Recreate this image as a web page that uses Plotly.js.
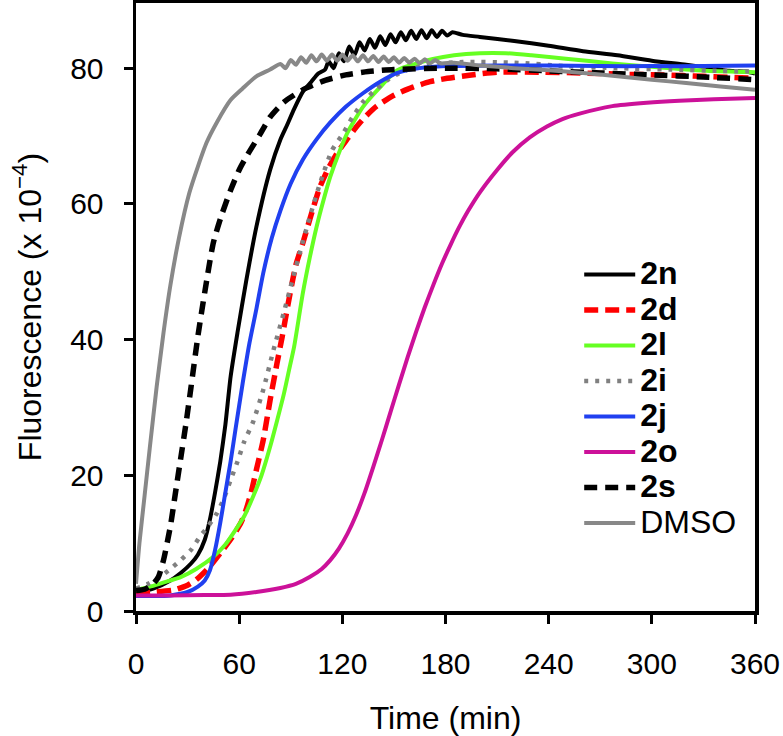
<!DOCTYPE html>
<html>
<head>
<meta charset="utf-8">
<script src="https://cdn.plot.ly/plotly-3.0.1.min.js"></script>
<style>html,body{margin:0;padding:0;background:#fff;}#chart{width:783px;height:736px;}</style>
</head>
<body>
<div id="chart"></div>
<script>
// ---- data (time in min, fluorescence x 10^-4) ----
var names = ["2n", "2d", "2l", "2i", "2j", "2o", "2s", "DMSO"];
var legendLabels = ["<b>2n</b>", "<b>2d</b>", "<b>2l</b>", "<b>2i</b>", "<b>2j</b>", "<b>2o</b>", "<b>2s</b>", "DMSO"];
var xTicks = [0, 60, 120, 180, 240, 300, 360];
var yTicks = [0, 20, 40, 60, 80];

var t2n = [0, 10, 20, 26, 32, 36, 40, 43, 46, 49, 52, 55, 59, 64, 70, 78, 84, 88, 92, 97, 102, 106, 110,
  112, 115, 118, 121, 124, 127, 130, 133, 136, 139, 142, 145, 148, 151, 154, 157, 160, 163, 166, 169, 172, 175, 178, 181, 184,
  190, 200, 220, 240, 260, 280, 300, 320, 335, 345, 355, 360];
var y2n = [2.7, 3.3, 4.5, 5.6, 7.0, 8.3, 10.5, 13.5, 17.5, 22.0, 27.5, 34.5, 41.0, 48.5, 56.6, 65.0, 69.5, 71.7, 74.0, 76.5, 78.0, 79.2, 79.8,
  81.0, 80.0, 82.2, 81.0, 83.2, 81.9, 83.8, 82.6, 84.3, 83.0, 84.7, 83.4, 85.0, 83.8, 85.3, 84.1, 85.5, 84.3, 85.6, 84.4, 85.6, 84.6, 85.5, 84.8, 85.3,
  84.9, 84.6, 84.0, 83.3, 82.5, 81.9, 81.1, 80.5, 80.0, 79.6, 79.5, 79.2];

var t2d = [0, 10, 22, 30, 35, 42, 49, 56, 61, 64, 67, 70, 74, 78, 82, 85, 89.6, 93, 97, 102, 107, 112, 117, 123, 128, 134, 140,
  150, 161, 171, 181, 195, 210, 235, 258, 282, 306, 330, 360];
var y2d = [2.6, 2.8, 3.1, 3.8, 4.6, 6.3, 8.5, 10.9, 13.0, 14.9, 17.5, 20.8, 25.2, 31.1, 36.5, 40.4, 46.8, 51.0, 54.2, 58.5, 62.5, 65.3, 67.5, 69.6, 71.3, 73.0, 74.4,
  76.0, 77.2, 78.0, 78.5, 79.0, 79.4, 79.4, 79.3, 79.1, 79.0, 78.8, 78.5];

var t2l = [0, 10, 20, 26, 35, 45, 52, 58, 63, 68, 73, 78, 82, 86, 89, 92, 97, 101, 105, 109, 113, 118, 123, 132, 142, 152,
  162, 172, 185, 200, 215, 230, 250, 277, 300, 326, 345, 360];
var y2l = [3.1, 3.7, 4.5, 5.0, 6.2, 8.0, 9.8, 12.0, 14.0, 16.8, 20.0, 24.2, 28.0, 32.0, 35.5, 39.0, 46.8, 52.0, 56.6, 60.5, 64.0, 67.5, 70.5, 74.3, 77.2, 79.7,
  80.6, 81.3, 81.9, 82.2, 82.2, 81.9, 81.4, 80.7, 80.2, 79.7, 79.5, 79.4];

var t2i = [0, 7, 14, 20, 26, 32, 37, 42, 47, 51, 55, 59, 63, 68, 74, 80, 86, 91, 96, 101, 107, 114, 120, 126, 132, 138, 146,
  155, 170, 190, 220, 250, 280, 310, 340, 360];
var y2i = [3.3, 4.0, 5.0, 6.2, 7.5, 9.0, 10.9, 12.5, 14.4, 16.5, 19.3, 22.0, 25.0, 27.8, 32.6, 38.5, 44.0, 48.8, 53.5, 58.0, 63.0, 67.9, 70.2, 72.8, 75.0, 76.5, 78.2,
  79.5, 80.5, 80.9, 80.8, 80.3, 80.0, 79.8, 79.6, 79.5];

var t2j = [0, 10, 20, 30, 36, 40, 43, 46, 49, 52, 55, 58, 62, 66, 70, 74, 79, 84, 90, 97, 105, 113, 122, 132, 142, 152,
  165, 180, 210, 240, 270, 300, 330, 360];
var y2j = [2.2, 2.2, 2.3, 2.8, 3.6, 4.5, 6.0, 9.0, 13.0, 17.5, 22.0, 27.0, 33.5, 39.5, 44.5, 49.8, 55.0, 59.0, 63.0, 66.5, 69.5, 72.0, 74.3, 76.3, 78.0, 79.3,
  80.0, 80.3, 80.4, 80.4, 80.3, 80.3, 80.3, 80.4];

var t2o = [0, 20, 40, 55, 70, 84, 93, 101, 108, 113, 118, 123, 128, 133, 138, 143, 148, 153, 158, 163, 168, 173, 178, 183, 188, 193,
  200, 210, 219, 229, 239, 248, 258, 277, 297, 316, 336, 360];
var y2o = [2.3, 2.3, 2.35, 2.4, 2.8, 3.4, 4.0, 5.0, 6.2, 7.5, 9.2, 11.4, 14.15, 17.45, 21.25, 25.2, 29.3, 33.4, 37.4, 41.2, 44.8, 48.1, 51.2, 54.0, 56.6, 58.9,
  61.7, 65.0, 67.6, 69.8, 71.4, 72.5, 73.3, 74.4, 74.9, 75.2, 75.4, 75.6];

var t2s = [0, 5, 10, 13, 16, 20, 23, 26, 29, 32, 36, 40, 45, 50, 55, 60, 65, 72, 78, 86, 97, 110, 122, 135, 150,
  180, 210, 240, 270, 300, 330, 360];
var y2s = [3.0, 3.2, 4.0, 5.0, 7.5, 12.5, 17.5, 22.5, 27.5, 33.0, 40.5, 47.0, 54.3, 58.5, 62.0, 65.0, 67.3, 70.2, 72.8, 75.0, 76.8, 78.2, 79.0, 79.5, 79.8,
  80.0, 79.9, 79.6, 79.3, 79.0, 78.7, 78.3];

var tDMSO = [0, 2, 5, 8, 12, 16, 20, 25, 31, 36, 41, 47, 55, 62, 70, 78,
  84, 87, 90, 93, 96, 99, 102, 105, 108, 111, 114, 117, 120, 123, 126, 129, 132, 135, 138, 141, 144, 147, 150, 153, 156, 159, 162, 165, 168, 171, 174, 177,
  185, 200, 220, 240, 260, 280, 300, 320, 340, 360];
var yDMSO = [4.0, 10.0, 17.0, 24.0, 33.0, 41.0, 48.0, 55.0, 61.6, 65.5, 69.0, 72.0, 75.3, 77.0, 78.8, 79.8,
  80.6, 80.0, 81.2, 80.5, 81.6, 80.8, 81.9, 81.0, 82.0, 81.1, 82.0, 81.1, 82.0, 81.1, 81.9, 81.0, 81.9, 81.0, 81.8, 80.9, 81.7, 80.9, 81.6, 80.8, 81.5, 80.8, 81.4, 80.7, 81.3, 80.7, 81.2, 80.7,
  80.8, 80.4, 80.0, 79.7, 79.3, 78.8, 78.3, 77.8, 77.3, 76.8];

var xs = [t2n, t2d, t2l, t2i, t2j, t2o, t2s, tDMSO];
var ys = [y2n, y2d, y2l, y2i, y2j, y2o, y2s, yDMSO];

// ---- styles ----
var colors = ["#000000", "#ff0000", "#66ff22", "#808080", "#2040f0", "#cc1199", "#000000", "#888888"];
var dashes = ["solid", "14px,7px", "solid", "4px,7px", "solid", "solid", "13px,8px", "solid"];
var widths = [4, 5.5, 4, 4.5, 4, 4, 5.5, 4];

var FONT = "Liberation Sans, Arial, Helvetica, sans-serif";
var traces = names.map(function (n, i) {
  return {
    type: "scatter",
    mode: "lines",
    name: '<span style="font-size:32px">' + legendLabels[i] + '</span>',
    x: xs[i],
    y: ys[i],
    line: { color: colors[i], width: widths[i], dash: dashes[i], shape: "spline", smoothing: 0.6 }
  };
});

var layout = {
  width: 783,
  height: 736,
  margin: { l: 136, r: 28, t: 3, b: 125, pad: 0 },
  paper_bgcolor: "#ffffff",
  plot_bgcolor: "#ffffff",
  font: { family: FONT, color: "#000000", size: 30 },
  showlegend: true,
  legend: {
    x: 0.716, y: 0.591, xanchor: "left", yanchor: "top",
    bgcolor: "rgba(0,0,0,0)", borderwidth: 0,
    font: { family: FONT, size: 25, color: "#000000" },
    itemwidth: 51,
    traceorder: "normal"
  },
  xaxis: {
    range: [0, 360],
    tickmode: "array", tickvals: xTicks, ticktext: xTicks.map(String),
    showline: true, linecolor: "#000", linewidth: 3.5, mirror: true,
    ticks: "outside", ticklen: 9, tickwidth: 3, tickcolor: "#000",
    showgrid: false, zeroline: false,
    tickfont: { family: FONT, size: 30, color: "#000" },
    ticklabelstandoff: 14,
    title: { text: "Time (min)", font: { family: FONT, size: 32, color: "#000" }, standoff: 36 },
    automargin: false
  },
  yaxis: {
    range: [0, 89.6],
    tickmode: "array", tickvals: yTicks, ticktext: yTicks.map(String),
    showline: true, linecolor: "#000", linewidth: 3.5, mirror: true,
    ticks: "outside", ticklen: 9, tickwidth: 3, tickcolor: "#000",
    showgrid: false, zeroline: false,
    tickfont: { family: FONT, size: 30, color: "#000" },
    ticklabelstandoff: 14,
    title: { text: "Fluorescence (x 10<sup>−4</sup>)", font: { family: FONT, size: 32, color: "#000" }, standoff: 20 },
    automargin: false
  }
};

Plotly.newPlot("chart", traces, layout, { displayModeBar: false, staticPlot: true });
</script>
</body>
</html>
